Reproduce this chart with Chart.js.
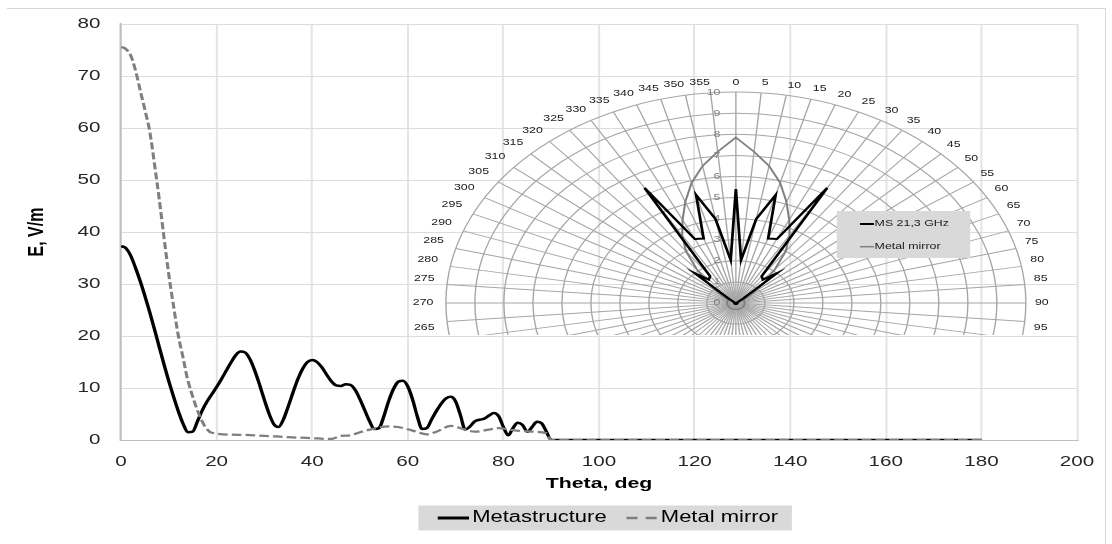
<!DOCTYPE html>
<html>
<head>
<meta charset="utf-8">
<script src="https://cdn.jsdelivr.net/npm/chart.js@4.4.1/dist/chart.umd.min.js"></script>
<style>
  html, body { margin: 0; padding: 0; background: #fff; overflow: hidden; }
  #main { position: absolute; left: 0; top: 0; }
  #polarClip { position: absolute; left: 0; top: 0; width: 1112px; height: 335px; overflow: hidden; }
  #polar { position: absolute; left: 0; top: 0; }
  #frameTop { position: absolute; left: 7px; top: 8px; width: 1098px; height: 1px; background: #d9d9d9; }
  #frameRight { position: absolute; left: 1105px; top: 8px; width: 1px; height: 536px; background: #d9d9d9; }
</style>
</head>
<body>
<div id="frameTop"></div>
<div id="frameRight"></div>
<canvas id="main" width="809" height="544"></canvas>
<div id="polarClip"><canvas id="polar" width="466" height="466"></canvas></div>
<script>
// ---- far-field cut: E (V/m) versus theta (deg) ----
const thetaMS = [
  0, 1, 2, 3, 4, 5, 6, 7, 8, 9,
  10, 11, 12, 13, 14, 15, 16, 17, 18, 19,
  20, 21, 22, 23, 24, 25, 26, 27, 28, 29,
  30, 31, 32, 33, 34, 35, 36, 37, 38, 39,
  40, 41, 42, 43, 44, 45, 46, 47, 48, 49,
  50, 51, 52, 53, 54, 55, 56, 57, 58, 59,
  60, 61, 62, 63, 64, 65, 66, 67, 68, 69,
  70, 71, 72, 73, 74, 75, 76, 77, 78, 79,
  80, 81, 82, 83, 84, 85, 86, 87, 88, 89,
  90, 95, 100, 105, 110, 115, 120, 125, 130, 135,
  140, 145, 150, 155, 160, 165, 170, 175, 180
];
const metastructure = [
  37.3, 36.9, 35.5, 33.2, 30.6, 27.7, 24.6, 21.3, 17.9, 14.5,
  11.3, 8.3, 5.5, 3.1, 1.5, 1.6, 3.6, 5.7, 7.4, 8.8,
  10.2, 11.7, 13.3, 14.9, 16.3, 17.0, 16.8, 15.5, 13.3, 10.6,
  7.7, 5.0, 3.0, 2.5, 4.0, 6.5, 9.2, 11.7, 13.7, 15.0,
  15.4, 15.0, 14.0, 12.6, 11.3, 10.5, 10.4, 10.7, 10.6, 9.6,
  7.8, 5.7, 3.6, 2.1, 2.3, 4.6, 7.5, 9.8, 11.2, 11.4,
  10.3, 7.8, 4.5, 2.1, 2.3, 4.0, 5.6, 7.0, 8.0, 8.3,
  7.4, 4.8, 2.0, 2.6, 3.6, 3.9, 4.1, 4.7, 5.2, 4.6,
  2.5, 0.9, 2.3, 3.3, 2.9, 1.6, 2.5, 3.5, 3.2, 1.6,
  0, 0, 0, 0, 0, 0, 0, 0, 0, 0,
  0, 0, 0, 0, 0, 0, 0, 0, 0
];
const thetaMirror = [
  0, 1, 2, 3, 4, 5, 6, 7, 8, 9,
  10, 11, 12, 13, 14, 19, 25, 30, 35, 40,
  44, 46, 48, 50, 53, 56, 58, 61, 64, 66,
  69, 72, 74, 77, 79, 82, 86, 89, 90, 95,
  100, 105, 110, 115, 120, 125, 130, 135, 140, 145,
  150, 155, 160, 165, 170, 175, 180
];
const metalMirror = [
  75.6, 75.2, 74.0, 71.2, 67.3, 63.5, 59.4, 53.1, 46.3, 38.9,
  31.8, 25.7, 20.0, 15.8, 11.4, 1.4, 1.0, 0.8, 0.55, 0.35,
  0.2, 0.8, 0.9, 1.5, 2.2, 2.6, 2.5, 1.8, 1.1, 1.6,
  2.7, 2.0, 1.6, 2.0, 2.3, 1.9, 1.6, 1.3, 0, 0,
  0, 0, 0, 0, 0, 0, 0, 0, 0, 0,
  0, 0, 0, 0, 0, 0, 0
];
const xTicks = { min: 0, max: 200, step: 20 };
const yTicks = { min: 0, max: 80, step: 10 };

// ---- polar diagram, 5 degree steps ----
const polarAngles = [
  '0', '5', '10', '15', '20', '25', '30', '35', '40', '45', '50', '55',
  '60', '65', '70', '75', '80', '85', '90', '95', '100', '105', '110', '115',
  '120', '125', '130', '135', '140', '145', '150', '155', '160', '165', '170', '175',
  '180', '185', '190', '195', '200', '205', '210', '215', '220', '225', '230', '235',
  '240', '245', '250', '255', '260', '265', '270', '275', '280', '285', '290', '295',
  '300', '305', '310', '315', '320', '325', '330', '335', '340', '345', '350', '355'
];
const ms213 = [
  5.4, 2.05, 4.05, 5.3, 3.25, 3.35, 6.3, 1.55, 1.45, 2.0, 0.3, 0.1,
  0.05, 0.05, 0.05, 0.05, 0.05, 0.05, 0.05, 0.05, 0.05, 0.05, 0.05, 0.05,
  0.05, 0.05, 0.05, 0.05, 0.05, 0.05, 0.05, 0.05, 0.05, 0.05, 0.05, 0.05,
  0.05, 0.05, 0.05, 0.05, 0.05, 0.05, 0.05, 0.05, 0.05, 0.05, 0.05, 0.05,
  0.05, 0.05, 0.05, 0.05, 0.05, 0.05, 0.05, 0.05, 0.05, 0.05, 0.05, 0.05,
  0.05, 0.1, 0.3, 2.0, 1.45, 1.55, 6.3, 3.35, 3.25, 5.3, 4.05, 2.05
];
const mirrorPolar = [
  7.85, 7.2, 6.6, 5.9, 5.1, 4.35, 3.7, 3.0, 2.1, 1.4, 0.9, 0.5,
  0.3, 0.3, 0.3, 0.3, 0.3, 0.3, 0.3, 0.3, 0.3, 0.3, 0.3, 0.3,
  0.3, 0.3, 0.3, 0.3, 0.3, 0.3, 0.3, 0.3, 0.3, 0.3, 0.3, 0.3,
  0.3, 0.3, 0.3, 0.3, 0.3, 0.3, 0.3, 0.3, 0.3, 0.3, 0.3, 0.3,
  0.3, 0.3, 0.3, 0.3, 0.3, 0.3, 0.3, 0.3, 0.3, 0.3, 0.3, 0.3,
  0.3, 0.5, 0.9, 1.4, 2.1, 3.0, 3.7, 4.35, 5.1, 5.9, 6.6, 7.2
];
const polarRange = { min: 0, max: 10, step: 1 };

const FONT = "'Liberation Sans', Arial, sans-serif";
const STRETCH = 1.375;   // horizontal stretch of the whole figure

// re-render a chart into a backing store that is STRETCH times wider
function stretchCanvas(chart) {
  const cv = chart.canvas;
  const w = chart.width, h = chart.height;
  cv.width = Math.round(w * STRETCH);
  cv.height = h;
  cv.style.width = cv.width + 'px';
  cv.style.height = h + 'px';
  chart.ctx.setTransform(STRETCH, 0, 0, 1, 0, 0);
  chart.draw();
}

// legend symbol: a short stroke placed right before the label text
function legendStroke(color, width, dash) {
  const c = document.createElement('canvas');
  c.width = 42; c.height = 8;
  const g = c.getContext('2d');
  g.strokeStyle = color; g.lineWidth = width; g.setLineDash(dash);
  g.beginPath(); g.moveTo(19, 4); g.lineTo(42, 4); g.stroke();
  return c;
}

// grey panel behind the bottom legend
const legendPanel = {
  id: 'legendPanel',
  beforeDraw(chart) {
    const hb = chart.legend && chart.legend.legendHitBoxes;
    if (!hb || !hb.length) return;
    const first = hb[0], last = hb[hb.length - 1];
    const left = first.left - 1;
    const right = last.left + last.width + 10;
    const cy = first.top + first.height / 2;
    const ctx = chart.ctx;
    ctx.save();
    ctx.fillStyle = '#d9d9d9';
    ctx.fillRect(left, cy - 12.5, right - left, 25);
    ctx.restore();
  }
};

const toXY = (xs, ys) => xs.map((x, i) => ({ x: x, y: ys[i] }));

const mainChart = new Chart(document.getElementById('main'), {
  type: 'line',
  data: {
    datasets: [
      {
        label: 'Metastructure',
        data: toXY(thetaMS, metastructure),
        borderColor: '#000000',
        borderWidth: 2.5,
        pointRadius: 0,
        pointStyle: legendStroke('#000000', 3, []),
        cubicInterpolationMode: 'monotone',
        fill: false,
        order: 1
      },
      {
        label: 'Metal mirror',
        data: toXY(thetaMirror, metalMirror),
        borderColor: '#7f7f7f',
        borderWidth: 2.25,
        borderDash: [7, 3],
        pointRadius: 0,
        pointStyle: legendStroke('#7f7f7f', 2.5, [8, 6]),
        cubicInterpolationMode: 'monotone',
        fill: false,
        order: 0
      }
    ]
  },
  options: {
    responsive: false,
    animation: false,
    devicePixelRatio: 1,
    events: [],
    layout: { padding: { left: 0, right: 25.7, top: 22, bottom: 8 } },
    scales: {
      x: {
        type: 'linear',
        min: xTicks.min, max: xTicks.max,
        afterFit: s => { s.height = 68.6; },
        ticks: { stepSize: xTicks.step, padding: 13, color: '#262626', font: { family: FONT, size: 15 } },
        grid: { color: '#e4e4e4', lineWidth: 2 / STRETCH, drawTicks: false },
        border: { color: '#bfbfbf' },
        title: { display: true, text: 'Theta, deg', color: '#000',
                 font: { family: FONT, size: 15.5, weight: 'bold' }, padding: { top: 0, bottom: 15.3 } }
      },
      y: {
        min: yTicks.min, max: yTicks.max,
        afterFit: s => { s.width = 88; },
        ticks: { stepSize: yTicks.step, padding: 15, color: '#262626', font: { family: FONT, size: 15 } },
        grid: { color: '#dcdcdc', drawTicks: false },
        border: { color: '#bfbfbf', width: 2 / STRETCH },
        title: { display: true, text: 'E, V/m', color: '#000',
                 font: { family: FONT, size: 16, weight: 'bold' }, padding: { top: 17.4, bottom: 0 } }
      }
    },
    plugins: {
      tooltip: { enabled: false },
      legend: {
        position: 'bottom',
        fullSize: false,
        labels: {
          usePointStyle: true,
          pointStyleWidth: 30,
          padding: 1.4,
          color: '#000',
          font: { family: FONT, size: 16 },
          sort: (a, b) => a.datasetIndex - b.datasetIndex
        }
      }
    }
  },
  plugins: [legendPanel]
});
stretchCanvas(mainChart);

// ---- polar inset ----
const POLAR_R = 211, POLAR_CX = 535.3, POLAR_CY = 303;

// legend box inside the polar diagram
const polarLegend = {
  id: 'polarLegend',
  afterDraw(chart) {
    const r = chart.scales.r, ctx = chart.ctx;
    const x0 = r.xCenter + 73.4, y0 = r.yCenter - 92, w = 97, h = 47;
    ctx.save();
    ctx.fillStyle = '#d9d9d9';
    ctx.fillRect(x0, y0, w, h);
    ctx.font = '9px ' + FONT;
    ctx.textBaseline = 'middle';
    ctx.textAlign = 'left';
    chart.data.datasets.forEach((ds, i) => {
      const y = y0 + 13 + i * 22.7;
      ctx.strokeStyle = ds.borderColor;
      ctx.lineWidth = ds.borderWidth;
      ctx.beginPath(); ctx.moveTo(x0 + 16.8, y); ctx.lineTo(x0 + 27, y); ctx.stroke();
      ctx.fillStyle = '#1a1a1a';
      ctx.fillText(ds.label, x0 + 27.5, y);
    });
    ctx.restore();
  }
};

// radial values sit just left of the 0 degree spoke
function radialTick(v) {
  const s = String(Math.round(v));
  return s + ' '.repeat(9 + 2 * s.length);
}

// distance of the angle labels from the outer ring
function labelGap(ctx) {
  const a = ctx.index * 5 * Math.PI / 180;
  const side = Math.abs(Math.sin(a));
  return 4.6 + side * (Math.sin(a) < 0 ? 4.5 : 2);
}

function polarConfig() {
  return {
    type: 'radar',
    data: {
      labels: polarAngles,
      datasets: [
        { label: 'MS 21,3 GHz', data: ms213, borderColor: '#000000', borderWidth: 2,
          pointRadius: 0, fill: false },
        { label: 'Metal mirror', data: mirrorPolar, borderColor: '#808080', borderWidth: 1.5,
          pointRadius: 0, fill: false }
      ]
    },
    options: {
      responsive: false,
      animation: false,
      devicePixelRatio: 1,
      events: [],
      elements: { line: { tension: 0, borderJoinStyle: 'miter' } },
      plugins: { legend: { display: false }, tooltip: { enabled: false } },
      scales: {
        r: {
          min: polarRange.min - 0.001, max: polarRange.max,
          startAngle: 0,
          ticks: { stepSize: polarRange.step, showLabelBackdrop: false, backdropPadding: -4.5,
                   color: '#7f7f7f', font: { family: FONT, size: 9 }, callback: radialTick },
          grid: { circular: true, color: '#a6a6a6', lineWidth: 1 },
          angleLines: { color: '#a6a6a6', lineWidth: 1 },
          pointLabels: { color: '#1a1a1a', padding: labelGap, font: { family: FONT, size: 9 } }
        }
      }
    },
    plugins: [polarLegend]
  };
}

const polarCanvas = document.getElementById('polar');
function buildPolar(size) {
  polarCanvas.width = size; polarCanvas.height = size;
  polarCanvas.style.width = size + 'px'; polarCanvas.style.height = size + 'px';
  return new Chart(polarCanvas, polarConfig());
}
let polarSize = 466;
let polar = buildPolar(polarSize);
const da = polar.scales.r.drawingArea;
if (Math.abs(da - POLAR_R) >= 0.5) {
  polar.destroy();
  polarSize = Math.round(polarSize + 2 * (POLAR_R - da));
  polar = buildPolar(polarSize);
}
const rs = polar.scales.r;
stretchCanvas(polar);
polarCanvas.style.left = ((POLAR_CX - rs.xCenter) * STRETCH) + 'px';
polarCanvas.style.top = (POLAR_CY - rs.yCenter) + 'px';
</script>
</body>
</html>
